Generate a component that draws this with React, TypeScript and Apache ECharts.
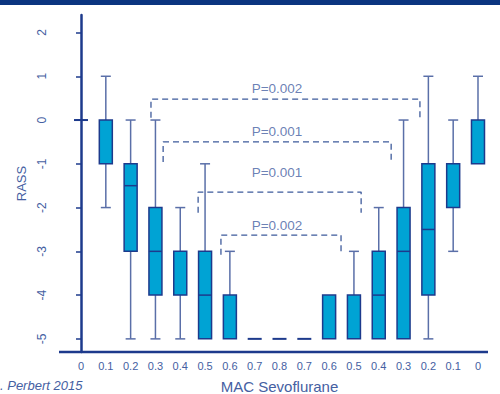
import React, { useEffect, useRef } from "react";
import * as echarts from "echarts";

const categories = ["0", "0.1", "0.2", "0.3", "0.4", "0.5", "0.6", "0.7", "0.8", "0.7", "0.6", "0.5", "0.4", "0.3", "0.2", "0.1", "0"];
const mins = [0, -2, -5, -5, -5, -5, -5, -5, -5, -5, -5, -5, -5, -5, -5, -3, -1];
const q1s = [0, -1, -3, -4, -4, -5, -5, -5, -5, -5, -5, -5, -5, -5, -4, -2, -1];
const medians = [0, 0, -1.5, -3, -3, -4, -4, -5, -5, -5, -4, -4, -4, -3, -2.5, -1, 0];
const q3s = [0, 0, -1, -2, -3, -3, -4, -5, -5, -5, -4, -4, -3, -2, -1, -1, 0];
const maxs = [0, 1, 0, 0, -2, -1, -3, -5, -5, -5, -4, -3, -2, 0, 1, 0, 1];

const yTicks = [-5, -4, -3, -2, -1, 0, 1, 2];

const bracketLeft = [2.82, 3.31, 4.72, 5.64];
const bracketRight = [13.66, 12.5, 11.29, 10.48];
const bracketTop = [0.48, -0.5, -1.645, -2.63];
const bracketLeg = [0.05, -0.96, -2.12, -3.08];
const pLabels = ["P=0.002", "P=0.001", "P=0.001", "P=0.002"];
const pLabelY = [0.71, -0.27, -1.19, -2.42];
const pLabelX = 7.9;

const NAVY = "#1d3a8c";
const WHISKER = "#5a6fa8";
const FILL = "#00a3d4";
const TEXT = "#4560a2";
const FONT = "'Liberation Sans', Arial, sans-serif";

export default function App() {
  const ref = useRef<HTMLDivElement>(null);
  useEffect(() => {
    if (!ref.current) return;
    const chart = echarts.init(ref.current, null, { renderer: "svg" });
    const boxData = categories.map((_, i) => [i, mins[i], q1s[i], medians[i], q3s[i], maxs[i]]);

    const renderItem = (params: any, api: any) => {
      const i = api.value(0);
      const mn = api.value(1), q1 = api.value(2), md = api.value(3), q3 = api.value(4), mx = api.value(5);
      const x = api.coord([i, 0])[0];
      const y = (v: number) => api.coord([i, v])[1];
      const bw = 13, cw = 10;
      const children: any[] = [];
      const wStyle = { stroke: WHISKER, lineWidth: 1.5 };
      if (mx > q3) {
        children.push({ type: "line", shape: { x1: x, y1: y(q3), x2: x, y2: y(mx) }, style: wStyle });
        children.push({ type: "line", shape: { x1: x - cw / 2, y1: y(mx), x2: x + cw / 2, y2: y(mx) }, style: wStyle });
      }
      if (mn < q1) {
        children.push({ type: "line", shape: { x1: x, y1: y(q1), x2: x, y2: y(mn) }, style: wStyle });
        children.push({ type: "line", shape: { x1: x - cw / 2, y1: y(mn), x2: x + cw / 2, y2: y(mn) }, style: wStyle });
      }
      if (q3 > q1) {
        children.push({
          type: "rect",
          shape: { x: x - bw / 2, y: y(q3), width: bw, height: y(q1) - y(q3) },
          style: { fill: FILL, stroke: NAVY, lineWidth: 1.5 },
        });
        if (md > q1 && md < q3) {
          children.push({ type: "line", shape: { x1: x - bw / 2, y1: y(md), x2: x + bw / 2, y2: y(md) }, style: { stroke: NAVY, lineWidth: 1.5 } });
        }
      } else {
        children.push({ type: "line", shape: { x1: x - 7, y1: y(q1), x2: x + 7, y2: y(q1) }, style: { stroke: NAVY, lineWidth: 2 } });
      }
      return { type: "group", children };
    };

    const bracketSeries = bracketLeft.map((L, k) => ({
      type: "line",
      xAxisIndex: 1,
      data: [
        [L, bracketLeg[k]],
        [L, bracketTop[k]],
        [bracketRight[k], bracketTop[k]],
        [bracketRight[k], bracketLeg[k]],
      ],
      symbol: "none",
      silent: true,
      lineStyle: { color: "#3d5a9b", width: 1.3, type: [6, 4] },
      z: 3,
    }));

    const option: any = {
      animation: false,
      grid: { left: 68.6, right: 9.6, top: 15, bottom: 42, outerBoundsMode: "none", containLabel: false },
      xAxis: [
        {
          type: "category",
          data: categories,
          axisLine: { show: false },
          axisTick: { show: false },
          splitLine: { show: false },
          axisLabel: { color: TEXT, fontSize: 11, margin: 8, interval: 0, fontFamily: FONT },
          name: "MAC Sevoflurane",
          nameLocation: "middle",
          nameGap: 27,
          nameTextStyle: { color: TEXT, fontSize: 15, fontFamily: FONT },
        },
        { type: "value", min: -0.5, max: 16.5, show: false },
      ],
      yAxis: {
        type: "value",
        min: -5.3,
        max: 2.4,
        offset: 8.6,
        axisLine: { show: true, lineStyle: { color: NAVY, width: 2.5 } },
        axisTick: { show: true, length: 5, lineStyle: { color: NAVY, width: 1.5 }, customValues: yTicks },
        axisLabel: { rotate: 90, customValues: yTicks, color: TEXT, fontSize: 12, margin: 12, fontFamily: FONT },
        splitLine: { show: false },
        name: "RASS",
        nameLocation: "middle",
        nameGap: 30,
        nameTextStyle: { color: TEXT, fontSize: 13, fontFamily: FONT },
      },
      graphic: [
        { type: "rect", shape: { x: 0, y: 0, width: 500, height: 5 }, style: { fill: "#0b3580" } },
        { type: "line", shape: { x1: 59, y1: 352, x2: 488, y2: 352 }, style: { stroke: NAVY, lineWidth: 2.5 } },
        {
          type: "text",
          x: 0,
          y: 385,
          style: { text: ". Perbert 2015", fill: TEXT, font: `italic 13px ${FONT}`, verticalAlign: "middle" },
        },
      ],
      series: [
        {
          type: "custom",
          xAxisIndex: 0,
          renderItem,
          data: boxData,
          encode: { x: 0, y: [1, 2, 3, 4, 5] },
          z: 2,
        },
        ...bracketSeries,
        {
          type: "scatter",
          xAxisIndex: 1,
          symbolSize: 1,
          itemStyle: { color: "rgba(0,0,0,0)" },
          silent: true,
          data: pLabels.map((t, k) => ({ value: [pLabelX, pLabelY[k]], name: t })),
          label: { show: true, position: "inside", formatter: "{b}", color: TEXT, fontSize: 13.5, fontFamily: FONT },
        },
      ],
    };
    chart.setOption(option);
    return () => chart.dispose();
  }, []);
  return <div ref={ref} style={{ position: "fixed", left: 0, top: 0, width: 500, height: 394, background: "#fff" }} />;
}
